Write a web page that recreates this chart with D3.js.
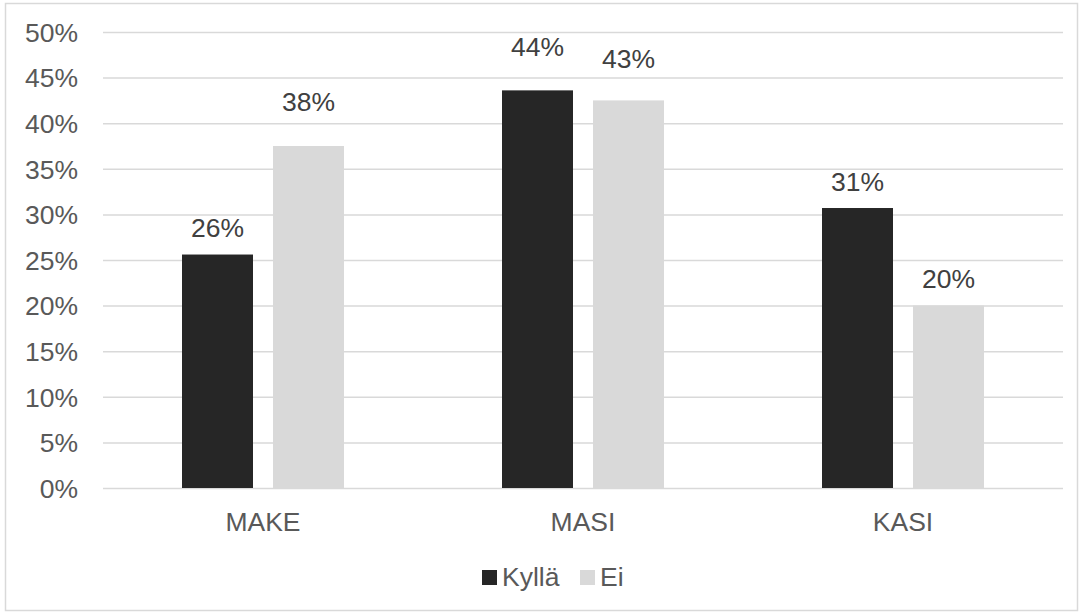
<!DOCTYPE html>
<html>
<head>
<meta charset="utf-8">
<script src="https://cdn.jsdelivr.net/npm/d3@7"></script>
<style>
  body { margin: 0; background: #fff; }
  svg text { font-family: "Liberation Sans", Arial, sans-serif; }
</style>
</head>
<body>
<div id="chart"></div>
<script>
// data
const categories = ["MAKE", "MASI", "KASI"];
const seriesNames = ["Kyllä", "Ei"];
const kylla = [25.6, 43.6, 30.7];
const ei = [37.5, 42.5, 20.0];
const tickValues = [0, 5, 10, 15, 20, 25, 30, 35, 40, 45, 50];

// how far each value label sits above its bar (labels were moved by hand in the original)
const labelLift = [[18, 35], [34, 32], [17, 18]];

const colors = ["#262626", "#d9d9d9"];

let width = 1083, height = 616;
let plot = {left: 103, right: 1063, top: 32, bottom: 488};
let fontSize = "26.5px";

let svg = d3.select("#chart")
    .append("svg")
    .attr("width", width)
    .attr("height", height);

// outer chart border
svg.append("rect")
    .attr("x", 5.5).attr("y", 3.5)
    .attr("width", 1072).attr("height", 607)
    .attr("fill", "#fff")
    .attr("stroke", "#d9d9d9")
    .attr("stroke-width", 1.5);

let x = d3.scaleBand()
    .domain(categories)
    .range([plot.left, plot.right]);

// two bars of ~71px with a 20px gap, centred in each category
let xInner = d3.scaleBand()
    .domain(seriesNames)
    .range([0, 162])
    .paddingInner(20 / 91);

let y = d3.scaleLinear()
    .domain([0, 50])
    .range([plot.bottom, plot.top]);

// gridlines + y labels
let yAxis = d3.axisLeft(y)
    .tickValues(tickValues)
    .tickSize(-(plot.right - plot.left))
    .tickPadding(25)
    .tickFormat(d => d + "%");

let gy = svg.append("g")
    .attr("transform", "translate(" + plot.left + ",0)")
    .call(yAxis);
gy.select(".domain").remove();
gy.selectAll(".tick line").attr("stroke", "#d9d9d9").attr("stroke-width", 1.5);
gy.selectAll(".tick text")
    .attr("fill", "#595959")
    .style("font-size", fontSize)
    .attr("dy", "0.35em");

// bars
let rows = categories.map((c, i) => ({cat: c, i: i, vals: [kylla[i], ei[i]]}));

let groups = svg.selectAll("g.cat")
    .data(rows)
    .enter()
    .append("g")
    .attr("class", "cat")
    .attr("transform", d => "translate(" + (x(d.cat) + x.bandwidth() / 2 - 81) + ",0)");

groups.selectAll("rect")
    .data(d => d.vals.map((v, j) => ({v: v, j: j, i: d.i})))
    .enter()
    .append("rect")
    .attr("x", d => xInner(seriesNames[d.j]))
    .attr("width", xInner.bandwidth())
    .attr("y", d => y(d.v))
    .attr("height", d => y(0) - y(d.v))
    .attr("fill", d => colors[d.j]);

groups.selectAll("text.val")
    .data(d => d.vals.map((v, j) => ({v: v, j: j, i: d.i})))
    .enter()
    .append("text")
    .attr("class", "val")
    .attr("x", d => xInner(seriesNames[d.j]) + xInner.bandwidth() / 2)
    .attr("y", d => y(d.v) - labelLift[d.i][d.j])
    .attr("text-anchor", "middle")
    .attr("fill", "#404040")
    .style("font-size", fontSize)
    .text(d => Math.round(d.v) + "%");

// category labels
svg.selectAll("text.cat")
    .data(categories)
    .enter()
    .append("text")
    .attr("class", "cat")
    .attr("x", d => x(d) + x.bandwidth() / 2)
    .attr("y", 531)
    .attr("text-anchor", "middle")
    .attr("fill", "#595959")
    .style("font-size", fontSize)
    .text(d => d);

// legend
let legend = svg.append("g").attr("transform", "translate(482,0)");
let legendX = [0, 98];
seriesNames.forEach((name, j) => {
    legend.append("rect")
        .attr("x", legendX[j]).attr("y", 570)
        .attr("width", 15).attr("height", 15)
        .attr("fill", colors[j]);
    legend.append("text")
        .attr("x", legendX[j] + 20).attr("y", 586)
        .attr("fill", "#595959")
        .style("font-size", fontSize)
        .text(name);
});
</script>
</body>
</html>
